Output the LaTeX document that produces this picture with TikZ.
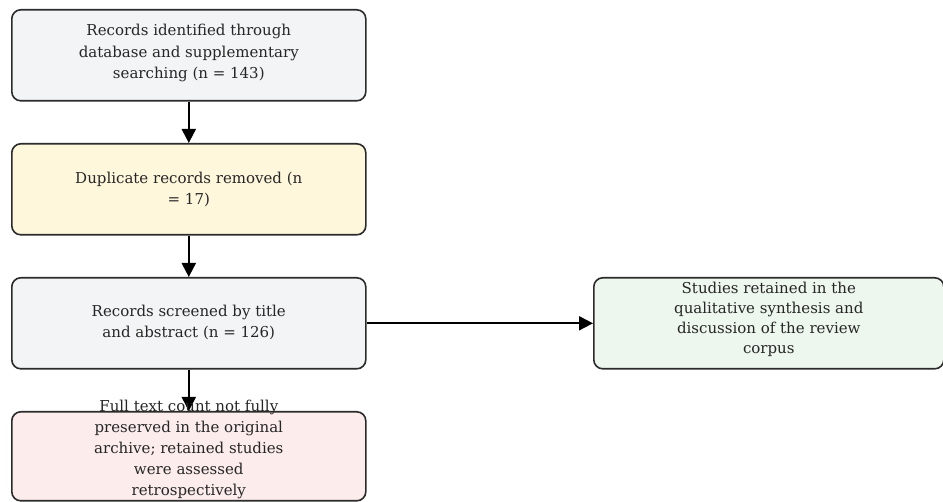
\documentclass[tikz,border=0pt]{standalone}
\usepackage{fontspec}
\setmainfont{DejaVu Serif}
\usetikzlibrary{arrows.meta}
\definecolor{edgec}{HTML}{2B2B2B}
\definecolor{greyfill}{HTML}{F3F4F6}
\definecolor{yellowfill}{HTML}{FEF7DC}
\definecolor{pinkfill}{HTML}{FCECEC}
\definecolor{greenfill}{HTML}{EEF7EE}
\definecolor{textc}{HTML}{262626}
\tikzset{
  box/.style={draw=edgec, line width=1.6pt, rounded corners=9pt, minimum width=354pt, minimum height=90pt, inner sep=0pt, anchor=north west},
  boxtext/.style={text=textc, align=center, font=\fontsize{15}{21.5}\selectfont},
  arr/.style={draw=black, line width=2pt, -{Triangle[length=14pt,width=14pt]}}
}
\begin{document}
\begin{tikzpicture}[x=1pt,y=-1pt]
\useasboundingbox (0,0) rectangle (943,502);
\node[box, fill=greyfill, minimum height=91pt] (b1) at (11,9) {};
\node[boxtext] (t1) at ([yshift=2pt]b1.center) {Records identified through\\database and supplementary\\searching (n = 143)};
\node[box, fill=yellowfill, minimum height=91pt] (b2) at (11,143) {};
\node[boxtext] (t2) at ([yshift=0pt]b2.center) {Duplicate records removed (n\\= 17)};
\node[box, fill=greyfill, minimum height=91pt] (b3) at (11,277) {};
\node[boxtext] (t3) at ([yshift=1pt]b3.center) {Records screened by title\\and abstract (n = 126)};
\node[box, fill=pinkfill, minimum height=89pt] (b4) at (11,411) {};
\node[box, fill=greenfill, minimum width=350pt, minimum height=91pt] (b5) at (593,277) {};
\node[boxtext, font=\fontsize{15}{20}\selectfont] (t5) at ([yshift=4pt]b5.center) {Studies retained in the\\qualitative synthesis and\\discussion of the review\\corpus};
\draw[arr] (b1.south) -- (b2.north);
\draw[arr] (b2.south) -- (b3.north);
\draw[arr] (b3.south) -- (b4.north);
\draw[arr] (b3.east) -- (b5.west);
\node[boxtext, font=\fontsize{15}{21}\selectfont] (t4) at ([yshift=7pt]b4.center) {Full text count not fully\\preserved in the original\\archive; retained studies\\were assessed\\retrospectively};
\end{tikzpicture}
\end{document}
